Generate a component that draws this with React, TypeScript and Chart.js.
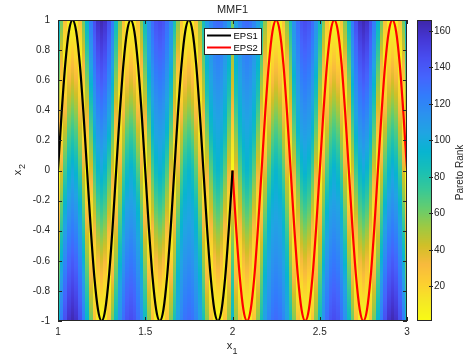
import { useEffect, useRef } from "react";
import { Chart, registerables } from "chart.js";
Chart.register(...registerables);

// ---------- data ----------
const xTickValues = [1, 1.5, 2, 2.5, 3];
const xTickLabels = ["1", "1.5", "2", "2.5", "3"];
const yTickValues = [-1, -0.8, -0.6, -0.4, -0.2, 0, 0.2, 0.4, 0.6, 0.8, 1];
const yTickLabels = ["-1", "-0.8", "-0.6", "-0.4", "-0.2", "0", "0.2", "0.4", "0.6", "0.8", "1"];
const rankTickValues = [20, 40, 60, 80, 100, 120, 140, 160];
const rankTickLabels = ["20", "40", "60", "80", "100", "120", "140", "160"];
const rankMin = 1;
const rankMax = 166;

const chartTitle = "MMF1";
const xAxisTitle = ["x", "1"];
const yAxisTitle = ["x", "2"];
const colorbarTitle = "Pareto Rank";

const eps1Label = "EPS1";
const eps2Label = "EPS2";

const eps1X = [
  1, 1.0208, 1.0417, 1.0625, 1.0833, 1.1042, 1.125, 1.1458, 1.1667, 1.1875, 1.2083, 1.2292, 1.25,
  1.2708, 1.2917, 1.3125, 1.3333, 1.3542, 1.375, 1.3958, 1.4167, 1.4375, 1.4583, 1.4792, 1.5,
  1.5208, 1.5417, 1.5625, 1.5833, 1.6042, 1.625, 1.6458, 1.6667, 1.6875, 1.7083, 1.7292, 1.75,
  1.7708, 1.7917, 1.8125, 1.8333, 1.8542, 1.875, 1.8958, 1.9167, 1.9375, 1.9583, 1.9792, 2,
];
const eps1Y = [
  0, 0.383, 0.707, 0.924, 1, 0.924, 0.707, 0.383, 0, -0.383, -0.707, -0.924, -1, -0.924, -0.707, -0.383,
  0, 0.383, 0.707, 0.924, 1, 0.924, 0.707, 0.383, 0, -0.383, -0.707, -0.924, -1, -0.924, -0.707, -0.383,
  0, 0.383, 0.707, 0.924, 1, 0.924, 0.707, 0.383, 0, -0.383, -0.707, -0.924, -1, -0.924, -0.707, -0.383,
  0,
];
const eps2X = [
  2, 2.0208, 2.0417, 2.0625, 2.0833, 2.1042, 2.125, 2.1458, 2.1667, 2.1875, 2.2083, 2.2292, 2.25,
  2.2708, 2.2917, 2.3125, 2.3333, 2.3542, 2.375, 2.3958, 2.4167, 2.4375, 2.4583, 2.4792, 2.5,
  2.5208, 2.5417, 2.5625, 2.5833, 2.6042, 2.625, 2.6458, 2.6667, 2.6875, 2.7083, 2.7292, 2.75,
  2.7708, 2.7917, 2.8125, 2.8333, 2.8542, 2.875, 2.8958, 2.9167, 2.9375, 2.9583, 2.9792, 3,
];
const eps2Y = [
  0, -0.383, -0.707, -0.924, -1, -0.924, -0.707, -0.383, 0, 0.383, 0.707, 0.924, 1, 0.924, 0.707, 0.383,
  0, -0.383, -0.707, -0.924, -1, -0.924, -0.707, -0.383, 0, 0.383, 0.707, 0.924, 1, 0.924, 0.707, 0.383,
  0, -0.383, -0.707, -0.924, -1, -0.924, -0.707, -0.383, 0, 0.383, 0.707, 0.924, 1, 0.924, 0.707, 0.383,
  0,
];

// heat-map rows (x2 values, top to bottom)
const gridY = [1, 0.75, 0.5, 0.25, 0, -0.25, -0.5, -0.75, -1];
// heat-map columns: Pareto rank at each gridY, for x1 = 1 .. 3 in steps of 1/48
const rankColumns = [
  [95, 72, 48, 25, 1, 25, 48, 72, 95],
  [62, 37, 13, 14, 39, 64, 88, 109, 125],
  [30, 5, 21, 46, 71, 96, 113, 129, 145],
  [8, 18, 43, 68, 92, 111, 127, 143, 159],
  [1, 26, 50, 75, 100, 116, 132, 148, 164],
  [8, 18, 43, 68, 92, 111, 127, 143, 159],
  [30, 5, 21, 46, 71, 96, 113, 129, 145],
  [62, 37, 13, 14, 39, 64, 88, 109, 125],
  [95, 72, 48, 25, 1, 25, 48, 72, 95],
  [125, 109, 88, 64, 39, 14, 13, 37, 62],
  [145, 129, 113, 96, 71, 46, 21, 5, 30],
  [159, 143, 127, 111, 92, 68, 43, 18, 8],
  [164, 148, 132, 116, 100, 75, 50, 26, 1],
  [159, 143, 127, 111, 92, 68, 43, 18, 8],
  [145, 129, 113, 96, 71, 46, 21, 5, 30],
  [125, 109, 88, 64, 39, 14, 13, 37, 62],
  [90, 69, 46, 24, 1, 24, 46, 69, 90],
  [59, 35, 12, 13, 37, 61, 84, 103, 115],
  [29, 5, 20, 44, 68, 92, 106, 119, 131],
  [8, 17, 41, 65, 88, 105, 117, 130, 142],
  [1, 25, 48, 72, 96, 108, 121, 133, 146],
  [8, 17, 41, 65, 88, 105, 117, 130, 142],
  [29, 5, 20, 44, 68, 92, 106, 119, 131],
  [59, 35, 12, 13, 37, 61, 84, 103, 115],
  [90, 69, 46, 24, 1, 24, 46, 69, 90],
  [115, 103, 84, 61, 37, 13, 12, 35, 59],
  [131, 119, 106, 92, 68, 44, 20, 5, 29],
  [142, 130, 117, 105, 88, 65, 41, 17, 8],
  [146, 133, 121, 108, 96, 72, 48, 25, 1],
  [142, 130, 117, 105, 88, 65, 41, 17, 8],
  [131, 119, 106, 92, 68, 44, 20, 5, 29],
  [115, 103, 84, 61, 37, 13, 12, 35, 59],
  [85, 65, 44, 23, 1, 23, 44, 65, 85],
  [57, 34, 12, 13, 36, 58, 81, 97, 107],
  [28, 5, 19, 42, 65, 88, 100, 110, 120],
  [8, 17, 39, 62, 85, 99, 109, 119, 129],
  [1, 24, 46, 69, 92, 102, 112, 122, 132],
  [8, 17, 39, 62, 85, 99, 109, 119, 129],
  [28, 5, 19, 42, 65, 88, 100, 110, 120],
  [57, 34, 12, 13, 36, 58, 81, 97, 107],
  [85, 65, 44, 23, 1, 23, 44, 65, 85],
  [107, 97, 81, 58, 36, 13, 12, 34, 57],
  [120, 110, 100, 88, 65, 42, 19, 5, 28],
  [129, 119, 109, 99, 85, 62, 39, 17, 8],
  [132, 122, 112, 102, 92, 69, 46, 24, 1],
  [129, 119, 109, 99, 85, 62, 39, 17, 8],
  [120, 110, 100, 88, 65, 42, 19, 5, 28],
  [107, 97, 81, 58, 36, 13, 12, 34, 57],
  [62, 50, 38, 20, 1, 35, 60, 78, 92],
  [107, 97, 81, 58, 36, 13, 12, 34, 57],
  [120, 110, 100, 88, 65, 42, 19, 5, 28],
  [129, 119, 109, 99, 85, 62, 39, 17, 8],
  [132, 122, 112, 102, 92, 69, 46, 24, 1],
  [129, 119, 109, 99, 85, 62, 39, 17, 8],
  [120, 110, 100, 88, 65, 42, 19, 5, 28],
  [107, 97, 81, 58, 36, 13, 12, 34, 57],
  [85, 65, 44, 23, 1, 23, 44, 65, 85],
  [57, 34, 12, 13, 36, 58, 81, 97, 107],
  [28, 5, 19, 42, 65, 88, 100, 110, 120],
  [8, 17, 39, 62, 85, 99, 109, 119, 129],
  [1, 24, 46, 69, 92, 102, 112, 122, 132],
  [8, 17, 39, 62, 85, 99, 109, 119, 129],
  [28, 5, 19, 42, 65, 88, 100, 110, 120],
  [57, 34, 12, 13, 36, 58, 81, 97, 107],
  [85, 65, 44, 23, 1, 23, 44, 65, 85],
  [115, 103, 84, 61, 37, 13, 12, 35, 59],
  [131, 119, 106, 92, 68, 44, 20, 5, 29],
  [142, 130, 117, 105, 88, 65, 41, 17, 8],
  [146, 133, 121, 108, 96, 72, 48, 25, 1],
  [142, 130, 117, 105, 88, 65, 41, 17, 8],
  [131, 119, 106, 92, 68, 44, 20, 5, 29],
  [115, 103, 84, 61, 37, 13, 12, 35, 59],
  [90, 69, 46, 24, 1, 24, 46, 69, 90],
  [59, 35, 12, 13, 37, 61, 84, 103, 115],
  [29, 5, 20, 44, 68, 92, 106, 119, 131],
  [8, 17, 41, 65, 88, 105, 117, 130, 142],
  [1, 25, 48, 72, 96, 108, 121, 133, 146],
  [8, 17, 41, 65, 88, 105, 117, 130, 142],
  [29, 5, 20, 44, 68, 92, 106, 119, 131],
  [59, 35, 12, 13, 37, 61, 84, 103, 115],
  [90, 69, 46, 24, 1, 24, 46, 69, 90],
  [125, 109, 88, 64, 39, 14, 13, 37, 62],
  [145, 129, 113, 96, 71, 46, 21, 5, 30],
  [159, 143, 127, 111, 92, 68, 43, 18, 8],
  [164, 148, 132, 116, 100, 75, 50, 26, 1],
  [159, 143, 127, 111, 92, 68, 43, 18, 8],
  [145, 129, 113, 96, 71, 46, 21, 5, 30],
  [125, 109, 88, 64, 39, 14, 13, 37, 62],
  [95, 72, 48, 25, 1, 25, 48, 72, 95],
  [62, 37, 13, 14, 39, 64, 88, 109, 125],
  [30, 5, 21, 46, 71, 96, 113, 129, 145],
  [8, 18, 43, 68, 92, 111, 127, 143, 159],
  [1, 26, 50, 75, 100, 116, 132, 148, 164],
  [8, 18, 43, 68, 92, 111, 127, 143, 159],
  [30, 5, 21, 46, 71, 96, 113, 129, 145],
  [62, 37, 13, 14, 39, 64, 88, 109, 125],
  [95, 72, 48, 25, 1, 25, 48, 72, 95],
];
const gridX = [...eps1X, ...eps2X.slice(1)];

// ---------- styling ----------
const FONT = "'Liberation Sans', Arial, Helvetica, sans-serif";
const TEXT = "#262626";
const PARULA: number[][] = [
  [0.2422, 0.1504, 0.6603], [0.2706, 0.2147, 0.8364], [0.2813, 0.3006, 0.9414],
  [0.2699, 0.3892, 0.9906], [0.1963, 0.4847, 0.9892], [0.1687, 0.5703, 0.9359],
  [0.1248, 0.6459, 0.8883], [0.0297, 0.7082, 0.8163], [0.0964, 0.75, 0.712],
  [0.2161, 0.7843, 0.5923], [0.3909, 0.8029, 0.4354], [0.6174, 0.7876, 0.2612],
  [0.8203, 0.7498, 0.1535], [0.9728, 0.7298, 0.2394], [0.9892, 0.8136, 0.1885],
  [0.9597, 0.9135, 0.1423], [0.9769, 0.9839, 0.0805],
];
function rankColor(v: number): string {
  let t = 1 - (v - rankMin) / (rankMax - rankMin);
  t = Math.max(0, Math.min(1, t));
  const f = t * (PARULA.length - 1);
  const i = Math.min(PARULA.length - 2, Math.floor(f));
  const u = f - i;
  const a = PARULA[i], b = PARULA[i + 1];
  const r = Math.round(255 * (a[0] + (b[0] - a[0]) * u));
  const g = Math.round(255 * (a[1] + (b[1] - a[1]) * u));
  const bl = Math.round(255 * (a[2] + (b[2] - a[2]) * u));
  return `rgb(${r},${g},${bl})`;
}
function valueAtY(col: number[], y: number): number {
  if (y >= gridY[0]) return col[0];
  for (let j = 0; j < gridY.length - 1; j++) {
    if (y <= gridY[j] && y >= gridY[j + 1]) {
      const u = (gridY[j] - y) / (gridY[j] - gridY[j + 1]);
      return col[j] + (col[j + 1] - col[j]) * u;
    }
  }
  return col[col.length - 1];
}

const heatPlugin = {
  id: "heatmap",
  beforeDatasetsDraw(chart: any) {
    const { ctx, chartArea: a, scales } = chart;
    const xs = scales.x, ys = scales.y;
    ctx.save();
    ctx.beginPath();
    ctx.rect(a.left, a.top, a.right - a.left, a.bottom - a.top);
    ctx.clip();
    const half = (gridX[1] - gridX[0]) / 2;
    for (let i = 0; i < gridX.length; i++) {
      const x0 = Math.max(Math.round(xs.getPixelForValue(gridX[i] - half)), Math.floor(a.left));
      const x1 = Math.min(Math.round(xs.getPixelForValue(gridX[i] + half)), Math.ceil(a.right));
      const col = rankColumns[i];
      for (let py = Math.floor(a.top); py < Math.ceil(a.bottom); py++) {
        const yv = ys.getValueForPixel(py + 0.5);
        ctx.fillStyle = rankColor(valueAtY(col, yv));
        ctx.fillRect(x0, py, x1 - x0, 1);
      }
    }
    ctx.restore();
  },
  afterDatasetsDraw(chart: any) {
    const { ctx, chartArea: a, scales } = chart;
    const xs = scales.x, ys = scales.y, yc = scales.yc;
    ctx.save();
    // axes box
    ctx.strokeStyle = TEXT;
    ctx.lineWidth = 1;
    ctx.strokeRect(Math.round(a.left) + 0.5, Math.round(a.top) + 0.5, Math.round(a.right - a.left) - 1, Math.round(a.bottom - a.top) - 1);
    // inward tick marks
    const tl = 4;
    ctx.beginPath();
    for (const t of xs.ticks) {
      const px = Math.round(xs.getPixelForValue(t.value)) + 0.5;
      ctx.moveTo(px, a.bottom); ctx.lineTo(px, a.bottom - tl);
      ctx.moveTo(px, a.top); ctx.lineTo(px, a.top + tl);
    }
    for (const t of ys.ticks) {
      const py = Math.round(ys.getPixelForValue(t.value)) + 0.5;
      ctx.moveTo(a.left, py); ctx.lineTo(a.left + tl, py);
      ctx.moveTo(a.right, py); ctx.lineTo(a.right - tl, py);
    }
    ctx.stroke();

    // legend
    const lx = 204, ly = 28, lw = 58, lh = 27;
    ctx.fillStyle = "#ffffff";
    ctx.fillRect(lx, ly, lw, lh);
    ctx.strokeStyle = TEXT;
    ctx.lineWidth = 1;
    ctx.strokeRect(lx + 0.5, ly + 0.5, lw - 1, lh - 1);
    chart.data.datasets.forEach((ds: any, i: number) => {
      const yy = ly + 7.5 + i * 12;
      ctx.strokeStyle = ds.borderColor;
      ctx.lineWidth = 2;
      ctx.beginPath();
      ctx.moveTo(lx + 3, yy); ctx.lineTo(lx + 27, yy);
      ctx.stroke();
      ctx.fillStyle = "#000";
      ctx.font = `9.5px ${FONT}`;
      ctx.textAlign = "left";
      ctx.textBaseline = "middle";
      ctx.fillText(ds.label, lx + 29.5, yy + 0.5);
    });

    // colorbar
    const bx = Math.round(a.right) + 10, bw = 15;
    for (let py = Math.floor(yc.top); py < Math.ceil(yc.bottom); py++) {
      ctx.fillStyle = rankColor(yc.getValueForPixel(py + 0.5));
      ctx.fillRect(bx, py, bw, 1);
    }
    ctx.strokeStyle = TEXT;
    ctx.lineWidth = 1;
    ctx.strokeRect(bx + 0.5, Math.round(yc.top) + 0.5, bw - 1, Math.round(yc.bottom - yc.top) - 1);
    ctx.beginPath();
    for (const t of yc.ticks) {
      const py = Math.round(yc.getPixelForValue(t.value)) + 0.5;
      ctx.moveTo(bx + bw - 3, py); ctx.lineTo(bx + bw + 1, py);
    }
    ctx.stroke();

    // axis titles
    ctx.fillStyle = TEXT;
    ctx.textAlign = "center";
    ctx.textBaseline = "middle";
    const xmid = (a.left + a.right) / 2;
    ctx.font = `11px ${FONT}`;
    ctx.fillText(xAxisTitle[0], xmid - 3, 346);
    ctx.font = `9px ${FONT}`;
    ctx.fillText(xAxisTitle[1], xmid + 2.5, 352);

    const ymid = (a.top + a.bottom) / 2;
    ctx.save();
    ctx.translate(18, ymid + 2);
    ctx.rotate(-Math.PI / 2);
    ctx.font = `11px ${FONT}`;
    ctx.fillText(yAxisTitle[0], 0, 0);
    ctx.font = `9px ${FONT}`;
    ctx.fillText(yAxisTitle[1], 6, 5);
    ctx.restore();

    ctx.save();
    ctx.translate(460, ymid + 2);
    ctx.rotate(-Math.PI / 2);
    ctx.font = `10px ${FONT}`;
    ctx.fillText(colorbarTitle, 0, 0);
    ctx.restore();

    ctx.restore();
  },
};

export default function App() {
  const ref = useRef<HTMLCanvasElement | null>(null);
  useEffect(() => {
    document.body.style.margin = "0";
    const canvas = ref.current;
    if (!canvas) return;
    const tickFont = { family: FONT, size: 10 };
    const chart = new Chart(canvas, {
      type: "line",
      data: {
        datasets: [
          {
            label: eps1Label,
            data: eps1X.map((x, i) => ({ x, y: eps1Y[i] })),
            borderColor: "#000000",
            borderWidth: 2.2,
            pointRadius: 0,
            cubicInterpolationMode: "monotone",
            fill: false,
          },
          {
            label: eps2Label,
            data: eps2X.map((x, i) => ({ x, y: eps2Y[i] })),
            borderColor: "#ff0000",
            borderWidth: 2.2,
            pointRadius: 0,
            cubicInterpolationMode: "monotone",
            fill: false,
          },
        ],
      },
      options: {
        animation: false,
        responsive: false,
        devicePixelRatio: 1,
        layout: { padding: 0 },
        scales: {
          x: {
            type: "linear",
            min: 1,
            max: 3,
            afterBuildTicks: (s: any) => { s.ticks = xTickValues.map((v) => ({ value: v })); },
            afterFit: (s: any) => { s.height = 41; },
            ticks: {
              autoSkip: false,
              maxRotation: 0,
              padding: 5,
              color: TEXT,
              font: tickFont,
              callback: (v: any) => xTickLabels[xTickValues.indexOf(Number(v))] ?? "",
            },
            grid: { display: false, drawTicks: false },
            border: { display: false },
          },
          y: {
            type: "linear",
            min: -1,
            max: 1,
            afterBuildTicks: (s: any) => { s.ticks = yTickValues.map((v) => ({ value: v })); },
            afterFit: (s: any) => { s.width = 58; },
            ticks: {
              autoSkip: false,
              padding: 8,
              color: TEXT,
              font: tickFont,
              callback: (v: any) => {
                const idx = yTickValues.findIndex((t) => Math.abs(t - Number(v)) < 1e-6);
                return idx >= 0 ? yTickLabels[idx] : "";
              },
            },
            grid: { display: false, drawTicks: false },
            border: { display: false },
          },
          yc: {
            type: "linear",
            position: "right",
            min: rankMin,
            max: rankMax,
            afterBuildTicks: (s: any) => { s.ticks = rankTickValues.map((v) => ({ value: v })); },
            afterFit: (s: any) => { s.width = 63; },
            ticks: {
              autoSkip: false,
              padding: 3,
              color: TEXT,
              font: tickFont,
              callback: (v: any) => rankTickLabels[rankTickValues.indexOf(Number(v))] ?? "",
            },
            grid: { display: false, drawTicks: true, tickLength: 24 },
            border: { display: false },
          },
        },
        plugins: {
          legend: { display: false },
          tooltip: { enabled: false },
          title: {
            display: true,
            text: chartTitle,
            color: TEXT,
            font: { family: FONT, size: 11, weight: "normal" },
            padding: { top: 3, bottom: 3.8 },
            fullSize: false,
          },
        },
      } as any,
      plugins: [heatPlugin],
    });
    return () => chart.destroy();
  }, []);
  return <canvas ref={ref} width={470} height={362} style={{ display: "block" }} />;
}
